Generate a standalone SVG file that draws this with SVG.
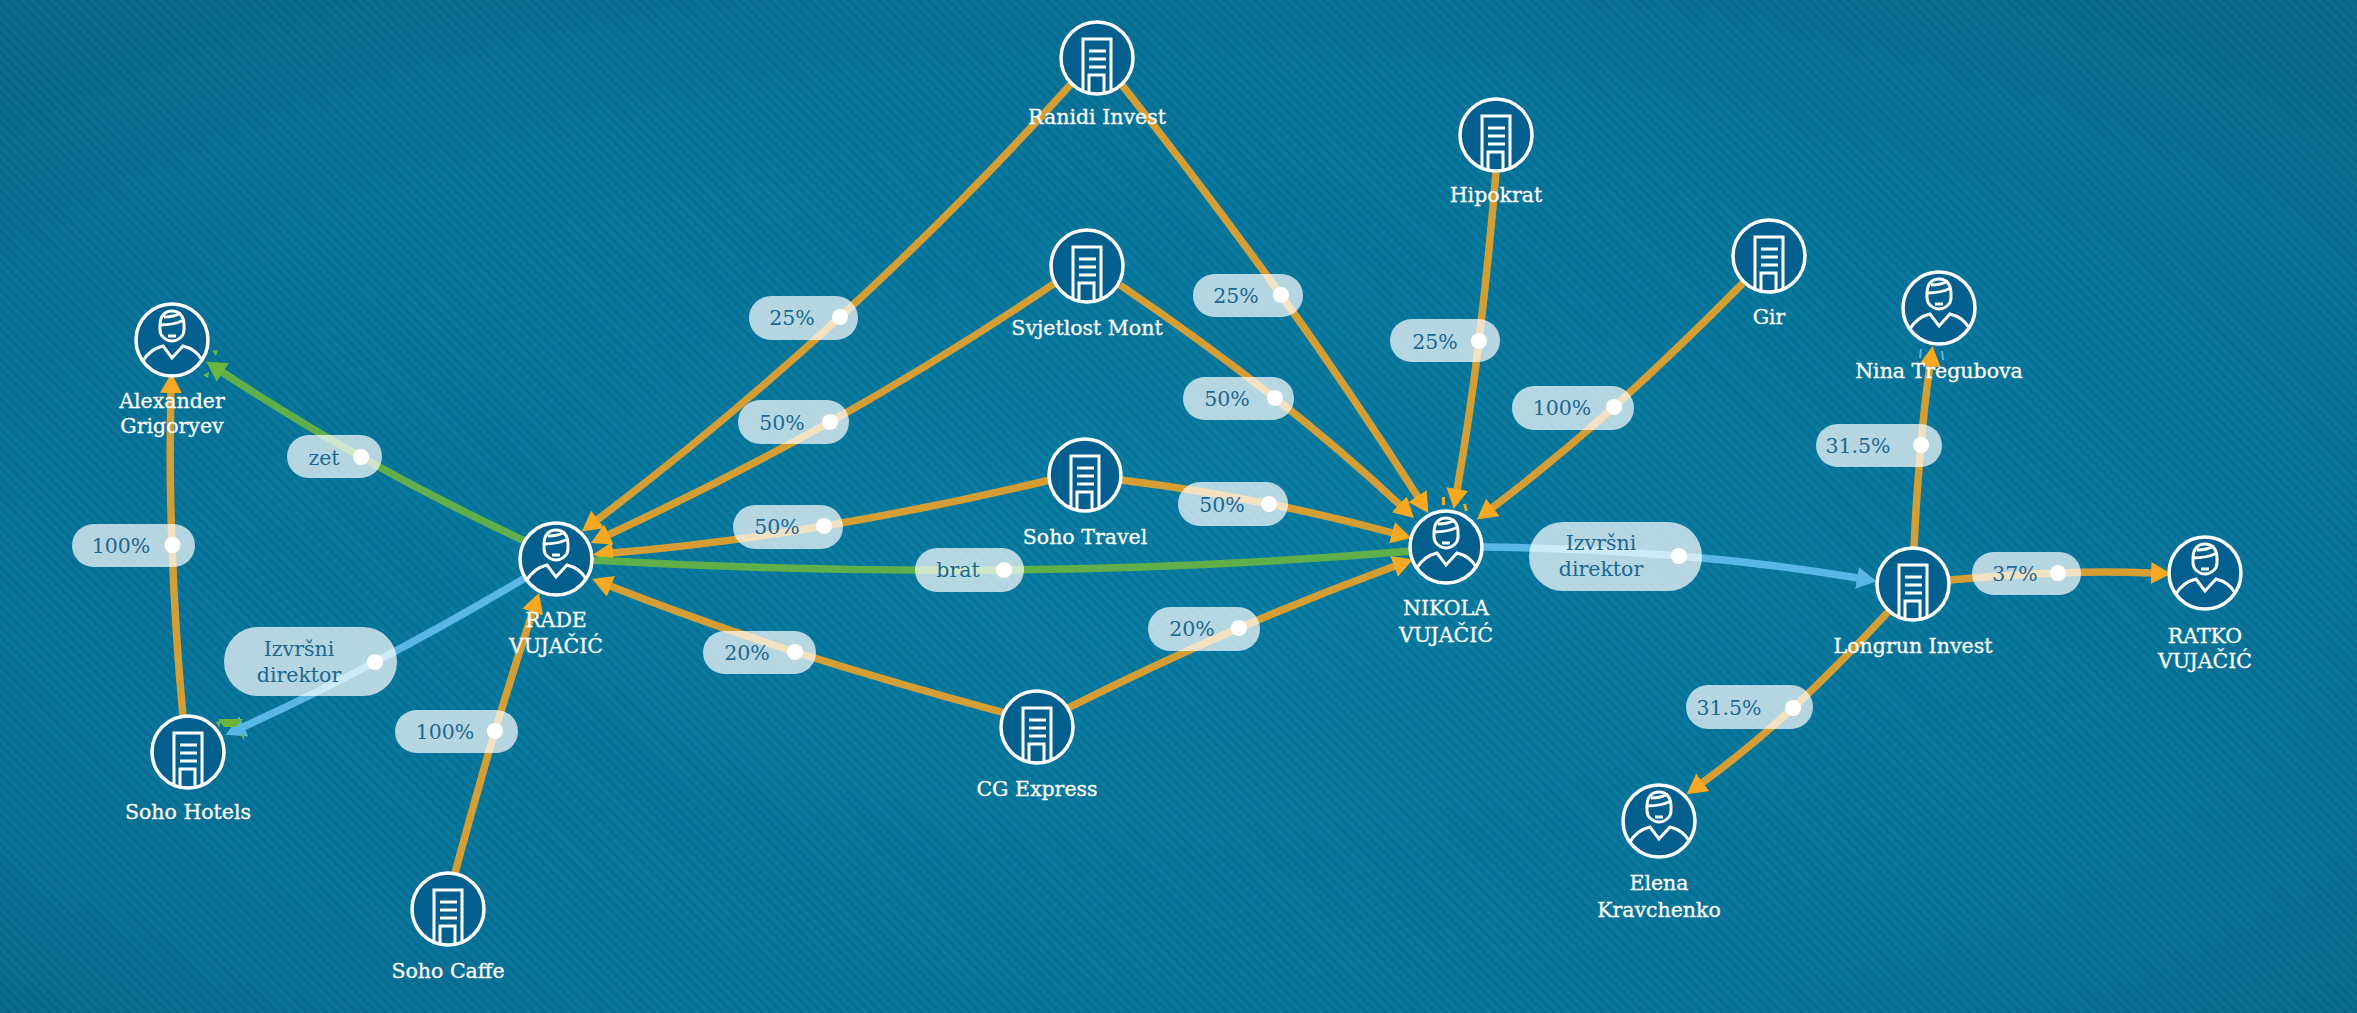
<svg xmlns="http://www.w3.org/2000/svg" width="2357" height="1013" viewBox="0 0 2357 1013">
<style>
.l{fill:none;stroke-width:7.500}
.o{stroke:#d49e35;marker-end:url(#ao)}
.g{stroke:#5fb04a}
.gz{marker-end:url(#ag)}
.b{stroke:#58b7e6;marker-end:url(#ab)}
.c{fill:#035f8d;stroke:#fff;stroke-width:3.500}
.i{fill:none;stroke:#fff;stroke-width:3}
text{font-family:"DejaVu Serif","Liberation Serif",serif;text-anchor:middle}
.n text{fill:#fff;stroke:#fff;stroke-width:.3;font-size:20.500px}
.p rect{fill:#fff;fill-opacity:.7}
.p circle{fill:#fff}
.p text{fill:#1c6890;font-size:20.500px}
</style>
<defs>
<radialGradient id="bg" cx="50%" cy="55%" r="68%"><stop offset="0" stop-color="#0a80a4"/><stop offset=".6" stop-color="#09799e"/><stop offset="1" stop-color="#0b6e92"/></radialGradient>
<pattern id="st" width="7" height="7" patternUnits="userSpaceOnUse" patternTransform="rotate(45)"><rect width="7" height="3.500" fill="#00385f" fill-opacity=".15"/></pattern>
<marker id="ao" markerUnits="userSpaceOnUse" markerWidth="24" markerHeight="26" refX="1" refY="11" orient="auto"><path d="M0 0L20 11L0 22Z" fill="#f8a821"/></marker>
<marker id="ag" markerUnits="userSpaceOnUse" markerWidth="24" markerHeight="26" refX="1" refY="11" orient="auto"><path d="M0 0L20 11L0 22Z" fill="#6ab53c"/></marker>
<marker id="ab" markerUnits="userSpaceOnUse" markerWidth="24" markerHeight="26" refX="1" refY="11" orient="auto"><path d="M0 0L20 11L0 22Z" fill="#58b7e6"/></marker>
<g id="person"><circle class="c" r="36"/><path class="i" d="M-12 -15C-12 -24 -7 -29 0 -29C7 -29 12 -24 12 -15V-10C12 -4 6 1 0 1C-6 1 -12 -4 -12 -10Z"/><path class="i" d="M-12 -15Q2 -15 12 -20M-8 -23Q2 -23 9 -27"/><path class="i" d="M-4 -4H4"/><path class="i" d="M-29 21Q-22 9 -9 6L0 18L11 6Q24 9 30 20"/></g>
<g id="building"><circle class="c" r="36"/><path class="i" d="M-14 33V-19H14V33M-8 -7H9M-8 1H9M-8 9H9M-8 34V17H7V34"/></g>
</defs>
<rect width="2357" height="1013" fill="url(#bg)"/>
<rect width="2357" height="1013" fill="url(#st)"/>
<g id="connectors">
<path class="l o" d="M1072 83Q959 208 840 317Q721 426 597 520"/>
<path class="l o" d="M1122 85Q1203 187 1281 295Q1351 393 1418 497"/>
<path class="l o" d="M1055 283Q944 358 830 422Q720 483 608 535"/>
<path class="l o" d="M1120 285Q1201 340 1275 398Q1341 450 1400 505"/>
<path class="l o" d="M1050 480Q937 507 824 526Q718 544 612 553"/>
<path class="l o" d="M1121 480Q1194 489 1269 504Q1330 516 1393 533"/>
<path class="l o" d="M1005 713Q900 685 795 652Q702 622 610 586"/>
<path class="l o" d="M1068 708Q1152 666 1239 628Q1316 595 1395 566"/>
<path class="l o" d="M1496 172Q1489 256 1479 341Q1470 415 1457 490"/>
<path class="l o" d="M1743 283Q1680 347 1614 407Q1555 460 1492 508"/>
<path class="l o" d="M1914 548Q1916 500 1921 445Q1924 408 1930 365"/>
<path class="l o" d="M1949 580Q2003 575 2058 573Q2105 571 2152 573"/>
<path class="l o" d="M1888 612Q1840 664 1793 708Q1747 750 1702 783"/>
<path class="l o" d="M183 716Q175 631 172 545Q169 469 171 392"/>
<path class="l o" d="M455 873Q474 802 495 731Q513 671 533 611"/>
<path class="l g" d="M590 560Q798 572 1004 570Q1210 568 1412 551"/>
<path class="l g gz" d="M525 541Q443 503 361 457Q294 419 222 372"/>
<path class="l b" d="M525 578Q449 623 375 662Q309 697 243 727"/>
<path class="l b" d="M1483 547Q1581 548 1679 556Q1769 563 1858 578"/>
<path d="M218 719H243L236 727H224ZM212 351L218 350L216 356ZM203 375L209 372L208 378ZM216 722L221 721L219 728ZM241 735L244 733L244 741Z" fill="#6ab53c"/>
<path d="M1442 497L1445 497L1445 505L1442 505ZM1463 504L1466 504L1468 511L1465 511Z" fill="#f8a821"/>
<path d="M1920 349L1922 349L1921 358L1919 358ZM1941 351L1943 351L1944 360L1942 360Z" fill="#58b7e6"/>
</g>
<g id="labels" class="p">
<g><rect x="749" y="296" width="109" height="44" rx="22"/><circle cx="840" cy="317" r="8"/><text x="792" y="325">25%</text></g>
<g><rect x="1193" y="274" width="110" height="43" rx="21.500"/><circle cx="1281" cy="295" r="8"/><text x="1236" y="303">25%</text></g>
<g><rect x="738" y="400" width="111" height="44" rx="22"/><circle cx="830" cy="422" r="8"/><text x="782" y="430">50%</text></g>
<g><rect x="1183" y="377" width="111" height="43" rx="21.500"/><circle cx="1275" cy="398" r="8"/><text x="1227" y="406">50%</text></g>
<g><rect x="1390" y="319" width="110" height="43" rx="21.500"/><circle cx="1479" cy="341" r="8"/><text x="1435" y="349">25%</text></g>
<g><rect x="1512" y="386" width="122" height="44" rx="22"/><circle cx="1614" cy="407" r="8"/><text x="1562" y="415">100%</text></g>
<g><rect x="1816" y="424" width="126" height="43" rx="21.500"/><circle cx="1921" cy="445" r="8"/><text x="1858" y="453">31.5%</text></g>
<g><rect x="733" y="505" width="110" height="44" rx="22"/><circle cx="824" cy="526" r="8"/><text x="777" y="534">50%</text></g>
<g><rect x="1178" y="482" width="110" height="44" rx="22"/><circle cx="1269" cy="504" r="8"/><text x="1222" y="512">50%</text></g>
<g><rect x="915" y="548" width="109" height="44" rx="22"/><circle cx="1004" cy="570" r="8"/><text x="958" y="577">brat</text></g>
<g><rect x="1529" y="522" width="173" height="69" rx="34"/><circle cx="1679" cy="556" r="8"/><text x="1601" y="550">Izvršni</text><text x="1601" y="576">direktor</text></g>
<g><rect x="1972" y="552" width="109" height="43" rx="21.500"/><circle cx="2058" cy="573" r="8"/><text x="2015" y="581">37%</text></g>
<g><rect x="703" y="631" width="113" height="43" rx="21.500"/><circle cx="795" cy="652" r="8"/><text x="747" y="660">20%</text></g>
<g><rect x="1148" y="607" width="112" height="44" rx="22"/><circle cx="1239" cy="628" r="8"/><text x="1192" y="636">20%</text></g>
<g><rect x="1686" y="685" width="127" height="44" rx="22"/><circle cx="1793" cy="708" r="8"/><text x="1729" y="715">31.5%</text></g>
<g><rect x="287" y="435" width="95" height="43" rx="21.500"/><circle cx="361" cy="457" r="8"/><text x="324" y="465">zet</text></g>
<g><rect x="72" y="524" width="123" height="43" rx="21.500"/><circle cx="172.500" cy="545" r="8"/><text x="121" y="553">100%</text></g>
<g><rect x="224" y="627" width="173" height="69" rx="34"/><circle cx="375" cy="662" r="8"/><text x="299" y="656">Izvršni</text><text x="299" y="682">direktor</text></g>
<g><rect x="395" y="710" width="123" height="43" rx="21.500"/><circle cx="495" cy="731" r="8"/><text x="445" y="739">100%</text></g>
</g>
<g id="ranidi" class="n"><use href="#building" x="1097" y="58"/><text x="1097" y="124">Ranidi Invest</text></g>
<g id="hipokrat" class="n"><use href="#building" x="1496" y="135"/><text x="1496" y="202">Hipokrat</text></g>
<g id="svjetlost" class="n"><use href="#building" x="1087" y="266"/><text x="1087" y="335">Svjetlost Mont</text></g>
<g id="gir" class="n"><use href="#building" x="1769" y="256"/><text x="1769" y="324">Gir</text></g>
<g id="nina" class="n"><use href="#person" x="1939" y="308"/><text x="1939" y="378">Nina Tregubova</text></g>
<g id="alexander" class="n"><use href="#person" x="172" y="340"/><text x="172" y="408">Alexander</text><text x="172" y="433">Grigoryev</text></g>
<g id="sohotravel" class="n"><use href="#building" x="1085" y="475"/><text x="1085" y="544">Soho Travel</text></g>
<g id="rade" class="n"><use href="#person" x="556" y="559"/><text x="556" y="627">RADE</text><text x="556" y="653">VUJAČIĆ</text></g>
<g id="nikola" class="n"><use href="#person" x="1446" y="547"/><text x="1446" y="615">NIKOLA</text><text x="1446" y="642">VUJAČIĆ</text></g>
<g id="longrun" class="n"><use href="#building" x="1913" y="584"/><text x="1913" y="653">Longrun Invest</text></g>
<g id="ratko" class="n"><use href="#person" x="2205" y="573"/><text x="2205" y="643">RATKO</text><text x="2205" y="668">VUJAČIĆ</text></g>
<g id="cgexpress" class="n"><use href="#building" x="1037" y="727"/><text x="1037" y="796">CG Express</text></g>
<g id="sohohotels" class="n"><use href="#building" x="188" y="752"/><text x="188" y="819">Soho Hotels</text></g>
<g id="elena" class="n"><use href="#person" x="1659" y="821"/><text x="1659" y="890">Elena</text><text x="1659" y="917">Kravchenko</text></g>
<g id="sohocaffe" class="n"><use href="#building" x="448" y="909"/><text x="448" y="978">Soho Caffe</text></g>
</svg>
